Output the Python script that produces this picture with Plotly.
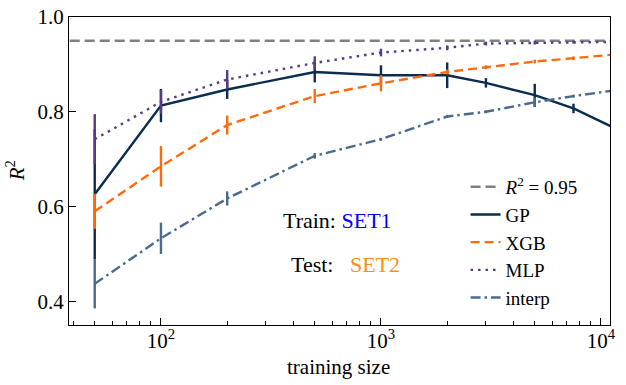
import plotly.graph_objects as go

# training sizes and R^2 scores
sizes = [50, 100, 200, 500, 1000, 2000, 3000, 5000, 7500, 20000]

gp_mean = [0.626, 0.813, 0.847, 0.884, 0.877, 0.877, 0.861, 0.835, 0.807, 0.713]
gp_err = [0.137, 0.035, 0.020, 0.022, 0.021, 0.027, 0.010, 0.024, 0.010, 0.005]

xgb_mean = [0.590, 0.685, 0.772, 0.833, 0.860, 0.884, 0.894, 0.906, 0.913, 0.931]
xgb_err = [0.037, 0.043, 0.020, 0.015, 0.017, 0.005, 0.004, 0.004, 0.004, 0.003]

mlp_mean = [0.742, 0.821, 0.868, 0.903, 0.925, 0.935, 0.944, 0.946, 0.947, 0.949]
mlp_err = [0.053, 0.025, 0.020, 0.014, 0.008, 0.005, 0.004, 0.004, 0.003, 0.003]

interp_mean = [0.437, 0.533, 0.617, 0.707, 0.742, 0.790, 0.800, 0.820, 0.833, 0.861]
interp_err = [0.052, 0.033, 0.015, 0.006, 0.003, 0.003, 0.003, 0.010, 0.003, 0.003]

r2_target = 0.95

FONT = "Liberation Serif"

series = [
    ("GP", gp_mean, gp_err, "#0a2d4f", "solid"),
    ("XGB", xgb_mean, xgb_err, "#ff6a0d", "9px,5px"),
    ("MLP", mlp_mean, mlp_err, "#5a3a80", "2.5px,5px"),
    ("interp", interp_mean, interp_err, "#4a6a90", "10px,4px,2.5px,4px"),
]

fig = go.Figure()

# reference line
fig.add_trace(go.Scatter(
    x=[sizes[0] / 10, sizes[-1] * 10], y=[r2_target, r2_target],
    mode="lines", name="<i>R</i><sup>2</sup> = 0.95",
    line=dict(color="#808080", width=2.5, dash="10px,5px"),
))

for name, mean, err, color, dash in series:
    fig.add_trace(go.Scatter(
        x=sizes, y=mean, mode="lines", name=name,
        line=dict(color=color, width=2.4, dash=dash),
        error_y=dict(type="data", array=err, visible=True,
                     color=color, thickness=2.4, width=0),
    ))

fig.add_annotation(x=0.497, y=0.338, xref="paper", yref="paper",
                   text="Train: <span style='color:#0000ff'>SET1</span>",
                   showarrow=False, font=dict(family=FONT, size=22, color="black"))
fig.add_annotation(x=0.512, y=0.15, xref="paper", yref="paper",
                   text="Test:&nbsp;&nbsp; <span style='color:#ff8c1a'>SET2</span>",
                   showarrow=False, font=dict(family=FONT, size=22, color="black"))

# axis titles placed by hand so the plot box keeps its size
fig.add_annotation(x=-0.128, y=0.5, xref="paper", yref="paper",
                   text="<i>R</i><sup>2</sup>", textangle=-90, showarrow=False,
                   font=dict(family=FONT, size=21, color="black"))
fig.add_annotation(x=0.499, y=-0.137, xref="paper", yref="paper",
                   xanchor="center", yanchor="middle",
                   text="training size", showarrow=False,
                   font=dict(family=FONT, size=21, color="black"))

minor_vals = [m * 10 ** e for e in (1, 2, 3) for m in range(2, 10)] + [2e4]

fig.update_layout(
    width=626, height=385,
    margin=dict(l=69, r=16, t=17, b=60),
    paper_bgcolor="white", plot_bgcolor="white",
    font=dict(family=FONT, size=21, color="black"),
    showlegend=True,
    legend=dict(x=0.733, y=0.51, xanchor="left", yanchor="top",
                bgcolor="rgba(0,0,0,0)", font=dict(size=19)),
    xaxis=dict(
        type="log", range=[1.582, 4.041], automargin=False,
        tickvals=[100, 1000, 10000],
        ticktext=["10<sup>2</sup>", "10<sup>3</sup>", "10<sup>4</sup>"],
        ticks="inside", ticklen=7, tickwidth=1, tickcolor="black",
        ticklabelstandoff=-3,
        minor=dict(tickvals=minor_vals, ticks="inside", ticklen=4, tickcolor="black"),
        showline=True, linecolor="black", linewidth=1.2, mirror=True,
        showgrid=False, zeroline=False,
    ),
    yaxis=dict(
        range=[0.35, 1.0], automargin=False,
        tickvals=[0.4, 0.6, 0.8, 1.0], tickformat=".1f",
        ticks="inside", ticklen=7, tickwidth=1, tickcolor="black",
        showline=True, linecolor="black", linewidth=1.2, mirror=True,
        showgrid=False, zeroline=False,
    ),
)

# drop the browser's default body margin so the figure sits at the page corner
fig.write_html("out.html", config={"displayModeBar": False},
               post_script="document.body.style.margin='0';")
